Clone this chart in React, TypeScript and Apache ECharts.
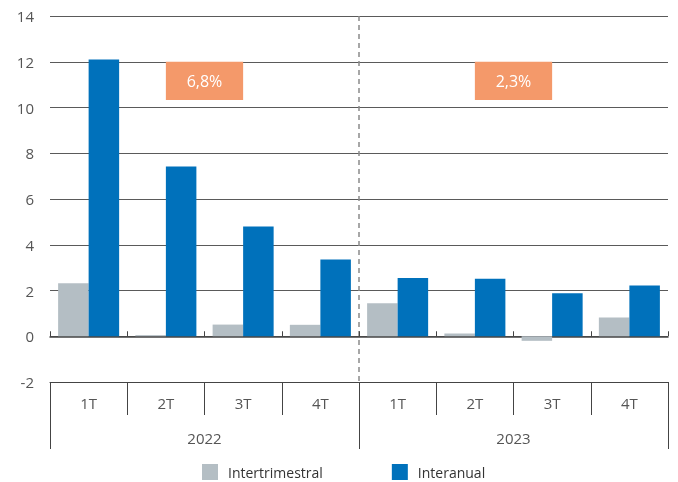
import React, { useEffect, useRef } from "react";
import * as echarts from "echarts";

const periodKeys = ["2022-1T", "2022-2T", "2022-3T", "2022-4T", "2023-1T", "2023-2T", "2023-3T", "2023-4T"];
const quarterLabels = ["1T", "2T", "3T", "4T", "1T", "2T", "3T", "4T"];
const yearLabels = ["2022", "2023"];
const intertrimestral = [2.32, 0.05, 0.51, 0.5, 1.44, 0.12, -0.2, 0.82];
const interanual = [12.1, 7.42, 4.8, 3.36, 2.55, 2.51, 1.88, 2.22];
const annotationTexts = ["6,8%", "2,3%"];
const annotationFrom = [1, 5];
const annotationTo = [2, 6];
const annotationTop = 12;
const annotationBottom = 10.33;
const yTicks = { min: -2, max: 14, interval: 2 };

const FONT = "'Open Sans', sans-serif";
const TEXT = "#555555";
const LINE = "#5a5a5a";

export default function App() {
  const ref = useRef<HTMLDivElement>(null);
  useEffect(() => {
    if (!ref.current) return;
    const chart = echarts.init(ref.current, undefined, { renderer: "svg" });
    chart.setOption({
      animation: false,
      textStyle: { fontFamily: FONT },
      grid: { left: 50, right: 10, top: 16, bottom: 100, containLabel: false },
      legend: {
        left: 202,
        top: 464,
        padding: 0,
        itemWidth: 16,
        itemHeight: 16,
        itemGap: 69,
        icon: "rect",
        selectedMode: false,
        textStyle: { color: "#333", fontSize: 14, fontFamily: FONT, padding: [0, 0, 0, 5] },
        data: ["Intertrimestral", "Interanual"],
      },
      xAxis: [
        {
          type: "category",
          data: periodKeys,
          position: "bottom",
          axisLine: { onZero: true, lineStyle: { color: "#444", width: 1.5 } },
          axisTick: { show: true, inside: true, length: 5, interval: 0, lineStyle: { color: "#444" } },
          axisLabel: { show: false },
          splitLine: { show: false },
        },
        {
          type: "category",
          data: quarterLabels,
          position: "bottom",
          offset: 0,
          axisLine: { onZero: false, lineStyle: { color: "#444", width: 1 } },
          axisTick: { show: true, length: 33, interval: 0, lineStyle: { color: "#444" } },
          axisLabel: { show: true, interval: 0, color: TEXT, fontSize: 15, fontFamily: FONT, margin: 13 },
          splitLine: { show: false },
        },
        {
          type: "category",
          data: yearLabels,
          position: "bottom",
          offset: 0,
          axisLine: { show: false, onZero: false },
          axisTick: { show: true, length: 67, interval: 0, lineStyle: { color: "#444" } },
          axisLabel: { show: true, interval: 0, color: TEXT, fontSize: 15, fontFamily: FONT, margin: 48 },
          splitLine: {
            show: true,
            showMinLine: false,
            showMaxLine: false,
            lineStyle: { color: "#8a8a8a", type: [5, 4], width: 1.5 },
          },
        },
      ],
      yAxis: {
        type: "value",
        min: yTicks.min,
        max: yTicks.max,
        interval: yTicks.interval,
        axisLine: { show: false },
        axisTick: { show: false },
        axisLabel: { color: TEXT, fontSize: 15, fontFamily: FONT, margin: 16 },
        splitLine: { lineStyle: { color: LINE, width: 1 } },
      },
      series: [
        {
          name: "Intertrimestral",
          type: "bar",
          xAxisIndex: 0,
          data: intertrimestral,
          barGap: "0%",
          barCategoryGap: "21%",
          itemStyle: { color: "#b4bec4" },
        },
        {
          name: "Interanual",
          type: "bar",
          xAxisIndex: 0,
          data: interanual,
          barGap: "0%",
          barCategoryGap: "21%",
          itemStyle: { color: "#0071bb" },
        },
      ],
    });

    const graphics: any[] = [];
    annotationTexts.forEach((t, i) => {
      const x1 = chart.convertToPixel({ xAxisIndex: 0 }, annotationFrom[i]) as number;
      const x2 = chart.convertToPixel({ xAxisIndex: 0 }, annotationTo[i]) as number;
      const y1 = chart.convertToPixel({ yAxisIndex: 0 }, annotationTop) as number;
      const y2 = chart.convertToPixel({ yAxisIndex: 0 }, annotationBottom) as number;
      graphics.push({
        type: "rect",
        silent: true,
        z: 50,
        shape: { x: x1, y: y1, width: x2 - x1, height: y2 - y1 },
        style: { fill: "#f4996a" },
      });
      graphics.push({
        type: "text",
        silent: true,
        z: 51,
        x: (x1 + x2) / 2,
        y: (y1 + y2) / 2,
        style: {
          text: t,
          fill: "#ffffff",
          fontSize: 16,
          fontFamily: FONT,
          align: "center",
          verticalAlign: "middle",
        },
      });
    });
    chart.setOption({ graphic: graphics });
    return () => chart.dispose();
  }, []);
  return <div ref={ref} style={{ position: "fixed", left: 0, top: 0, width: 678, height: 482 }} />;
}
